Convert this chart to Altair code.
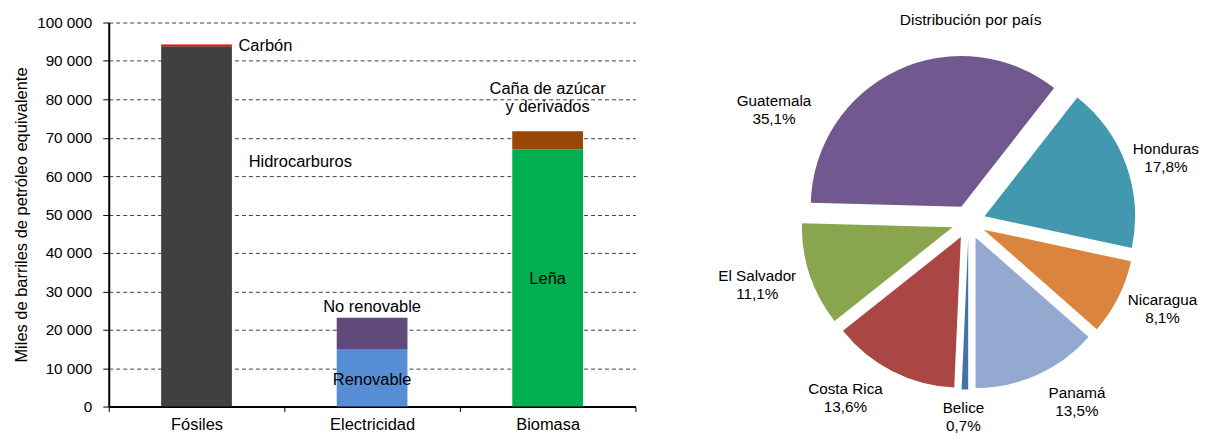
import math
import altair as alt
import pandas as pd

# ---------------- data ----------------
categories = ["Fósiles", "Electricidad", "Biomasa"]
bottom_names = ["Hidrocarburos", "Renovable", "Leña"]
bottom_values = [93800, 15000, 67000]
top_names = ["Carbón", "No renovable", "Caña de azúcar y derivados"]
top_values = [500, 8100, 4700]

countries = ["Belice", "Costa Rica", "El Salvador", "Guatemala", "Honduras", "Nicaragua", "Panamá"]
shares = [0.7, 13.6, 11.1, 35.1, 17.8, 8.1, 13.5]

y_ticks = list(range(0, 100001, 10000))

# ---------------- style ----------------
FONT = "Liberation Sans"
FS_TICK = 15.3
FS_LEFT = 16.5
FS_PIE = 15.3
LH = 18
component_colors = {
    "Hidrocarburos": "#404040",
    "Carbón": "#FF0000",
    "Renovable": "#558ED5",
    "No renovable": "#604A7B",
    "Leña": "#00B050",
    "Caña de azúcar y derivados": "#984807",
}
country_colors = ["#4572A7", "#AA4643", "#89A54E", "#71588F", "#4198AF", "#DB843D", "#93A9CF"]

PLOT_W, PLOT_H = 528, 385
PIE_W = 545
CX, CY = 320, 200          # pie centre inside its view
R = 151                    # pie radius
EXPLODE = 17               # slice explosion distance
START = math.pi            # first slice starts at the bottom
# label placement around the pie (angle in degrees clockwise from top, distance in px)
LABEL_POLAR = {
    "Belice": (181.5, 196),
    "Costa Rica": (214.9, 215.7),
    "El Salvador": (253.5, 221),
    "Guatemala": (299.9, 225),
    "Honduras": (72.0, 208),
    "Nicaragua": (114.1, 213),
    "Panamá": (149.0, 211),
}

# ---------------- bar chart ----------------
rows = []
for c, bn, bv, tn, tv in zip(categories, bottom_names, bottom_values, top_names, top_values):
    rows.append({"category": c, "component": bn, "value": bv, "level": 0})
    rows.append({"category": c, "component": tn, "value": tv, "level": 1})
bar_df = pd.DataFrame(rows)

x_axis = alt.Axis(
    title=None, labelAngle=0, labelFont=FONT, labelFontSize=FS_LEFT, labelColor="black",
    labelPadding=5, tickBand="extent", tickSize=5, tickColor="black",
    domainColor="black", domainWidth=2, grid=False,
)
x_scale = alt.Scale(paddingInner=0, paddingOuter=0)
y_axis = alt.Axis(
    title="Miles de barriles de petróleo equivalente",
    titleFont=FONT, titleFontSize=FS_LEFT, titleFontWeight="normal", titleColor="black",
    titlePadding=7,
    values=y_ticks,
    labelExpr="replace(format(datum.value, ','), /,/g, ' ')",
    labelFont=FONT, labelFontSize=FS_TICK, labelColor="black", labelPadding=11,
    labelOverlap=False,
    tickSize=6, tickColor="black", tickWidth=1,
    domainColor="black", domainWidth=2,
    grid=True, gridColor="#404040", gridDash=[4, 3], gridWidth=1, gridOpacity=1,
)
y_scale = alt.Scale(domain=[0, 100000], nice=False)

bars = alt.Chart(bar_df).mark_bar(width={"band": 0.403}).encode(
    x=alt.X("category:N", sort=categories, scale=x_scale, axis=x_axis),
    y=alt.Y("value:Q", stack="zero", scale=y_scale, axis=y_axis),
    color=alt.Color("component:N",
                    scale=alt.Scale(domain=list(component_colors.keys()),
                                    range=list(component_colors.values())),
                    legend=None),
    order=alt.Order("level:Q"),
)


def bar_label(text, cat, yval, dx=0, dy=0, align="center"):
    df = pd.DataFrame({"category": [cat], "value": [yval]})
    return alt.Chart(df).mark_text(
        text=text, dx=dx, dy=dy, align=align, baseline="middle",
        font=FONT, fontSize=FS_LEFT, color="black", lineHeight=LH,
    ).encode(
        x=alt.X("category:N", sort=categories, scale=x_scale, axis=x_axis),
        y=alt.Y("value:Q", stack=None, scale=y_scale, axis=y_axis),
    )


tot = [b + t for b, t in zip(bottom_values, top_values)]
labels = [
    bar_label("Carbón", categories[0], tot[0], dx=42, dy=2, align="left"),
    bar_label("Hidrocarburos", categories[0], bottom_values[0] / 2, dx=104, dy=-65),
    bar_label("No renovable", categories[1], tot[1], dy=-11),
    bar_label("Renovable", categories[1], bottom_values[1] / 2, dy=2),
    bar_label("Leña", categories[2], bottom_values[2] / 2, dy=1),
    bar_label(["Caña de azúcar", "y derivados"], categories[2], tot[2], dy=-42),
]

left = alt.layer(bars, *labels).properties(width=PLOT_W, height=PLOT_H)

# ---------------- pie chart ----------------
total = sum(shares)
cum = 0.0
pxs, pys, lxs, lys, texts = [], [], [], [], []
for name, s in zip(countries, shares):
    mid = START + 2 * math.pi * (cum + s / 2) / total
    cum += s
    pxs.append(CX + EXPLODE * math.sin(mid))
    pys.append(CY - EXPLODE * math.cos(mid))
    ang, dist = LABEL_POLAR[name]
    la = math.radians(ang)
    lxs.append(CX + dist * math.sin(la))
    lys.append(CY - dist * math.cos(la))
    texts.append(name + "\n" + f"{s:.1f}".replace(".", ",") + "%")

pie_df = pd.DataFrame({
    "country": countries, "share": shares, "order": list(range(len(countries))),
    "px": pxs, "py": pys, "lx": lxs, "ly": lys, "label": texts,
})

arcs = alt.Chart(pie_df).mark_arc(outerRadius=R).encode(
    theta=alt.Theta("share:Q", stack=True,
                    scale=alt.Scale(domain=[0, total], range=[START, START + 2 * math.pi])),
    order=alt.Order("order:Q"),
    color=alt.Color("country:N",
                    scale=alt.Scale(domain=countries, range=country_colors), legend=None),
    x=alt.X("px:Q", scale=None),
    y=alt.Y("py:Q", scale=None),
)

pie_labels = alt.Chart(pie_df).mark_text(
    lineBreak="\n", align="center", baseline="middle", dy=-LH / 2,
    font=FONT, fontSize=FS_PIE, color="black", lineHeight=LH,
).encode(
    x=alt.X("lx:Q", scale=None),
    y=alt.Y("ly:Q", scale=None),
    text="label:N",
)

pie_title = alt.Chart(pd.DataFrame({"t": ["Distribución por país"]})).mark_text(
    align="center", baseline="middle", font=FONT, fontSize=15.6, color="black",
).encode(x=alt.value(CX + 2), y=alt.value(-2), text="t:N")

pie = alt.layer(arcs, pie_labels, pie_title).properties(width=PIE_W, height=PLOT_H)

chart = alt.hconcat(left, pie, spacing=14, bounds="flush").resolve_scale(
    color="independent"
).properties(
    padding={"left": 5, "top": 5, "right": 0, "bottom": 0}
).configure_view(stroke=None)

chart.save("out.html", embed_options={"renderer": "svg", "actions": False})
